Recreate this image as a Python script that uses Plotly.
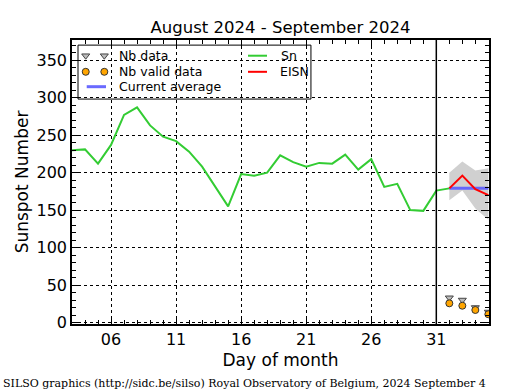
import plotly.graph_objects as go

# ---- data ----
sn_days = list(range(3, 33))
sn_values = [230, 231, 212, 237, 277, 287, 263, 248, 242, 228, 208, 182, 155, 198,
             196, 200, 223, 214, 208, 213, 212, 224, 204, 218, 181, 185, 150, 149, 176, 179]
eisn_days = [32, 33, 34, 35]
eisn_values = [179, 196, 178, 170]
eisn_upper = [200, 215, 203, 206]
eisn_lower = [163, 176, 152, 137]
current_avg = [179, 179, 179, 179]
nb_data = [33, 30, 20, 14]
nb_valid = [25.6, 22.4, 16.7, 11]
current_day = 31

FONT = "DejaVu Sans"

fig = go.Figure()

# gray uncertainty band
fig.add_trace(go.Scatter(x=eisn_days, y=eisn_upper, mode="lines",
                         line=dict(width=0, color="rgba(0,0,0,0)"), showlegend=False, hoverinfo="skip"))
fig.add_trace(go.Scatter(x=eisn_days, y=eisn_lower, mode="lines", fill="tonexty",
                         fillcolor="#d0d0d0", line=dict(width=0, color="rgba(0,0,0,0)"),
                         showlegend=False, hoverinfo="skip"))
# Sn
fig.add_trace(go.Scatter(x=sn_days, y=sn_values, mode="lines",
                         line=dict(color="#33cc33", width=2), showlegend=False))
# current average
fig.add_trace(go.Scatter(x=eisn_days, y=current_avg, mode="lines",
                         line=dict(color="rgba(90,90,255,0.9)", width=3), showlegend=False))
# EISN
fig.add_trace(go.Scatter(x=eisn_days, y=eisn_values, mode="lines",
                         line=dict(color="#ff0000", width=2), showlegend=False))
# Nb data / valid data
fig.add_trace(go.Scatter(x=eisn_days, y=nb_data, mode="markers",
                         marker=dict(symbol="triangle-down", size=7, color="#bbbbbb",
                                     line=dict(color="#444444", width=1)), showlegend=False))
fig.add_trace(go.Scatter(x=eisn_days, y=nb_valid, mode="markers",
                         marker=dict(symbol="circle", size=7, color="#ffa500",
                                     line=dict(color="#333333", width=1)), showlegend=False))

# ---- manual legend on an overlay axis (0..1 of the plot area) ----
rows = [0.9447, 0.888, 0.8356]
fig.add_trace(go.Scatter(x=[0.0329, 0.0775], y=[rows[0]] * 2, mode="markers", xaxis="x2", yaxis="y2",
                         marker=dict(symbol="triangle-down", size=7, color="#bbbbbb",
                                     line=dict(color="#444444", width=1)), showlegend=False, cliponaxis=False))
fig.add_trace(go.Scatter(x=[0.0329, 0.0775], y=[rows[1]] * 2, mode="markers", xaxis="x2", yaxis="y2",
                         marker=dict(symbol="circle", size=7, color="#ffa500",
                                     line=dict(color="#333333", width=1)), showlegend=False, cliponaxis=False))
fig.add_trace(go.Scatter(x=[0.0353, 0.0815], y=[rows[2]] * 2, mode="lines", xaxis="x2", yaxis="y2",
                         line=dict(color="rgba(90,90,255,0.9)", width=3), showlegend=False))
fig.add_trace(go.Scatter(x=[0.422, 0.4676], y=[rows[0]] * 2, mode="lines", xaxis="x2", yaxis="y2",
                         line=dict(color="#33cc33", width=2), showlegend=False))
fig.add_trace(go.Scatter(x=[0.422, 0.4676], y=[rows[1]] * 2, mode="lines", xaxis="x2", yaxis="y2",
                         line=dict(color="#ff0000", width=2), showlegend=False))

legend_texts = [(0.108, rows[0], "Nb data"), (0.108, rows[1], "Nb valid data"),
                (0.108, rows[2], "Current average"), (0.497, rows[0], "Sn"), (0.494, rows[1], "EISN")]
annotations = []
for lx, ly, t in legend_texts:
    annotations.append(dict(x=lx, y=ly, xref="paper", yref="paper", text=t, showarrow=False,
                            xanchor="left", yanchor="middle", font=dict(family=FONT, size=12.5, color="black")))
annotations.append(dict(x=-71 / 417, y=-51 / 284, xref="paper", yref="paper", xanchor="left", yanchor="top",
                        showarrow=False, text="SILSO graphics (http://sidc.be/silso) Royal Observatory of Belgium, 2024 September 4",
                        font=dict(family="DejaVu Serif", size=11, color="black")))

shapes = [
    dict(type="rect", xref="paper", yref="paper", x0=0.0144, x1=0.573, y0=0.792, y1=0.982,
         fillcolor="white", line=dict(color="black", width=1), layer="between"),
    dict(type="line", xref="x", yref="paper", x0=current_day, x1=current_day, y0=0, y1=1,
         line=dict(color="black", width=1.5)),
]

axis_common = dict(showline=True, linecolor="black", linewidth=1.5, mirror="allticks",
                   ticks="inside", ticklen=8, tickwidth=1, tickcolor="black",
                   showgrid=True, gridcolor="black", gridwidth=1, griddash="dot", zeroline=False,
                   tickfont=dict(family=FONT, size=16, color="black"))

fig.update_layout(
    width=515, height=390,
    margin=dict(l=72, r=26, t=40, b=66),
    paper_bgcolor="white", plot_bgcolor="white",
    title=dict(text="August 2024 - September 2024", x=280.5 / 515, xanchor="center", y=1 - 27 / 390,
               yanchor="middle", font=dict(family=FONT, size=16.5, color="black")),
    xaxis=dict(range=[3, 35.05], tick0=1, dtick=5, tickformat="02d",
               minor=dict(tick0=0, dtick=1, ticks="inside", ticklen=4, tickcolor="black", showgrid=False),
               title=dict(text="Day of month", font=dict(family=FONT, size=17, color="black"), standoff=6),
               **axis_common),
    yaxis=dict(range=[-2, 377], tick0=0, dtick=50,
               minor=dict(tick0=0, dtick=10, ticks="inside", ticklen=4, tickcolor="black", showgrid=False),
               title=dict(text="Sunspot Number", font=dict(family=FONT, size=17, color="black"), standoff=4),
               **axis_common),
    xaxis2=dict(overlaying="x", range=[0, 1], visible=False, fixedrange=True),
    yaxis2=dict(overlaying="y", range=[0, 1], visible=False, fixedrange=True),
    shapes=shapes,
    annotations=annotations,
    showlegend=False,
)

fig.write_html("out.html", config={"displayModeBar": False},
               post_script="document.body.style.margin='0';document.body.style.overflow='hidden';")
